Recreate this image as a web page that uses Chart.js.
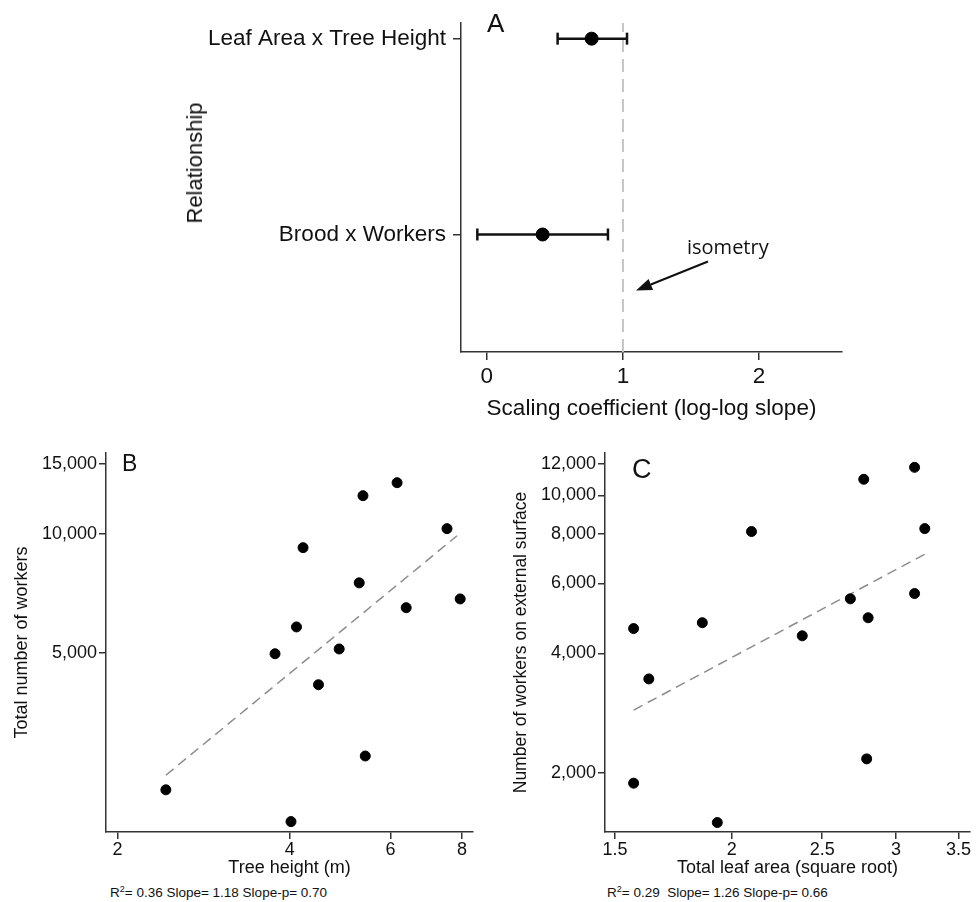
<!DOCTYPE html>
<html>
<head>
<meta charset="utf-8">
<script src="https://cdn.jsdelivr.net/npm/chart.js@4/dist/chart.umd.min.js"></script>
<style>
  body { margin: 0; background: #fff; width: 977px; height: 902px; position: relative; overflow: hidden;
         font-family: 'Liberation Sans', Arial, sans-serif; color: #111; }
  canvas { position: absolute; }
  .lbl { position: absolute; line-height: 1; white-space: nowrap; }
  .note { font-size: 13.5px; }
  .note sup { font-size: 9px; vertical-align: 5px; }
</style>
</head>
<body>
<canvas id="chartA" width="977" height="430" style="left:0;top:0"></canvas>
<canvas id="chartB" width="488" height="440" style="left:0;top:440px"></canvas>
<canvas id="chartC" width="489" height="440" style="left:488px;top:440px"></canvas>

<div class="lbl" style="left:487px;top:10px;font-size:26px">A</div>
<div class="lbl" style="left:122px;top:452px;font-size:23px">B</div>
<div class="lbl" style="left:632px;top:456px;font-size:27px">C</div>
<div class="lbl" style="left:195px;top:163px;font-size:22px;transform:translate(-50%,-50%) rotate(-90deg)">Relationship</div>
<div class="lbl" style="left:687px;top:237px;font-size:20px;font-family:'Open Sans',sans-serif">isometry</div>
<div class="lbl note" style="left:110px;top:885px">R<sup>2</sup>= 0.36 Slope= 1.18 Slope-p= 0.70</div>
<div class="lbl note" style="left:607px;top:885px">R<sup>2</sup>= 0.29&nbsp; Slope= 1.26 Slope-p= 0.66</div>

<script>
// panel A: scaling coefficients
const relationships = ['Leaf Area x Tree Height', 'Brood x Workers']
const relPositions = [2, 1]
const slopeEst = [0.77, 0.41]
const slopeLow = [0.52, -0.07]
const slopeHigh = [1.03, 0.89]
const slopeTicks = [0, 1, 2]
const isometry = 1
const arrowFrom = [1.625, 0.862]
const arrowTo = [1.096, 0.714]

// panel B: tree height vs total workers
const heightB = [2.43, 3.77, 4.02, 4.11, 4.22, 4.49, 4.88, 5.29, 5.37, 5.42, 6.16, 6.39, 7.53, 7.94]
const workersB = [2250, 4970, 1870, 5810, 9220, 4150, 5110, 7510, 12480, 2740, 13460, 6500, 10300, 6840]
const trendHeightB = [2.43, 7.84]
const trendWorkersB = [2450, 9880]
const heightTicks = [2, 4, 6, 8]
const workerTicksB = [5000, 10000, 15000]

// panel C: leaf area vs workers on external surface
const leafC = [3.14, 2.77, 3.22, 2.10, 3.14, 2.68, 2.80, 1.86, 1.57, 2.38, 1.63, 2.79, 1.57, 1.93]
const externalC = [11770, 10980, 8250, 8110, 5660, 5490, 4920, 4780, 4620, 4430, 3450, 2170, 1885, 1500]
const trendLeafC = [1.57, 3.23]
const trendExternalC = [2880, 7140]
const leafTicks = [1.5, 2, 2.5, 3, 3.5]
const externalTicks = [2000, 4000, 6000, 8000, 10000, 12000]

Chart.defaults.font.family = "'Liberation Sans', Arial, sans-serif"
Chart.defaults.color = '#111'

const zip = (xs, ys) => xs.map((x, i) => ({ x, y: ys[i] }))

function axis(cfg) {
  return {
    type: cfg.type,
    min: cfg.min,
    max: cfg.max,
    afterBuildTicks: (s) => { s.ticks = cfg.ticks.map((v) => ({ value: v })) },
    afterFit: (s) => { if (cfg.width) s.width = cfg.width; if (cfg.height) s.height = cfg.height },
    ticks: {
      autoSkip: false, maxRotation: 0, color: '#111',
      font: { size: cfg.fontSize }, padding: cfg.tickPad,
      callback: cfg.format || ((v) => String(v)),
    },
    grid: { drawOnChartArea: false, tickLength: cfg.tickLen, color: '#333', lineWidth: 1.5 },
    border: { color: '#333', width: 1.5 },
    title: cfg.title
      ? { display: true, text: cfg.title, color: '#111', font: { size: cfg.titleSize || cfg.fontSize }, padding: cfg.titlePad }
      : { display: false },
  }
}

const baseOpts = {
  responsive: false,
  animation: false,
  plugins: { legend: { display: false }, tooltip: { enabled: false } },
}

const arrowPlugin = {
  id: 'isometryArrow',
  afterDatasetsDraw(chart) {
    const { ctx, scales: { x, y } } = chart
    const x1 = x.getPixelForValue(arrowFrom[0]), y1 = y.getPixelForValue(arrowFrom[1])
    const x2 = x.getPixelForValue(arrowTo[0]), y2 = y.getPixelForValue(arrowTo[1])
    const ang = Math.atan2(y2 - y1, x2 - x1)
    const head = 16, half = 6
    const bx = x2 - head * Math.cos(ang), by = y2 - head * Math.sin(ang)
    ctx.save()
    ctx.strokeStyle = '#111'
    ctx.lineWidth = 2
    ctx.beginPath(); ctx.moveTo(x1, y1); ctx.lineTo(bx, by); ctx.stroke()
    ctx.fillStyle = '#111'
    ctx.beginPath()
    ctx.moveTo(x2, y2)
    ctx.lineTo(bx + half * Math.sin(ang), by - half * Math.cos(ang))
    ctx.lineTo(bx - half * Math.sin(ang), by + half * Math.cos(ang))
    ctx.closePath(); ctx.fill()
    ctx.restore()
  },
}

// A
const yMinA = 0.4, yMaxA = 2.08
new Chart(document.getElementById('chartA'), {
  type: 'scatter',
  data: {
    datasets: [
      { data: zip(slopeEst, relPositions), backgroundColor: '#000', borderColor: '#000', pointRadius: 6.5 },
      ...relationships.map((r, i) => ({
        data: [{ x: slopeLow[i], y: relPositions[i] }, { x: slopeHigh[i], y: relPositions[i] }],
        showLine: true, borderColor: '#111', borderWidth: 2.5,
        pointStyle: 'line', pointRotation: 90, pointRadius: 6, pointBorderWidth: 2.5, pointBorderColor: '#111',
      })),
      {
        data: [{ x: isometry, y: yMinA }, { x: isometry, y: yMaxA }],
        showLine: true, borderColor: '#c4c4c4', borderWidth: 2, borderDash: [13, 7], pointRadius: 0,
      },
    ],
  },
  options: {
    ...baseOpts,
    layout: { padding: { left: 0, right: 135, top: 23, bottom: 0 } },
    scales: {
      x: axis({ type: 'linear', min: -0.19, max: 2.61, ticks: slopeTicks, height: 78, fontSize: 22.5,
        tickPad: 3, tickLen: 8, title: 'Scaling coefficient (log-log slope)', titlePad: { bottom: 8 } }),
      y: axis({ type: 'linear', min: yMinA, max: yMaxA, ticks: relPositions, width: 461, fontSize: 22.5,
        tickPad: 7, tickLen: 8, format: (v) => relationships[relPositions.indexOf(v)] }),
    },
  },
  plugins: [arrowPlugin],
})

function fitChart(id, xs, ys, tx, ty, xCfg, yCfg, pad) {
  new Chart(document.getElementById(id), {
    type: 'scatter',
    data: {
      datasets: [
        { data: zip(xs, ys), backgroundColor: '#000', borderColor: '#000', pointRadius: 5 },
        { data: zip(tx, ty), showLine: true, borderColor: '#8c8c8c', borderWidth: 1.5, borderDash: [10, 6], pointRadius: 0 },
      ],
    },
    options: {
      ...baseOpts,
      layout: { padding: pad },
      scales: { x: axis(xCfg), y: axis(yCfg) },
    },
  })
}

const fmt = (v) => v.toLocaleString('en-US')

// B
fitChart('chartB', heightB, workersB, trendHeightB, trendWorkersB,
  { type: 'logarithmic', min: 1.91, max: 8.36, ticks: heightTicks, height: 48, fontSize: 18, tickPad: 0, tickLen: 7,
    title: 'Tree height (m)', titlePad: { bottom: 1 } },
  { type: 'logarithmic', min: 1760, max: 16000, ticks: workerTicksB, width: 106, fontSize: 18, tickPad: 2, tickLen: 7,
    format: fmt, title: 'Total number of workers', titlePad: { top: 11 } },
  { left: 0, right: 15, top: 13, bottom: 0 })

// C
fitChart('chartC', leafC, externalC, trendLeafC, trendExternalC,
  { type: 'logarithmic', min: 1.463, max: 3.60, ticks: leafTicks, height: 48, fontSize: 18, tickPad: 0, tickLen: 7,
    title: 'Total leaf area (square root)', titlePad: { bottom: 1 } },
  { type: 'logarithmic', min: 1420, max: 12790, ticks: externalTicks, width: 117, fontSize: 18, tickPad: 2, tickLen: 7,
    format: fmt, title: 'Number of workers on external surface', titleSize: 17.5, titlePad: { top: 23 } },
  { left: 0, right: 7, top: 13, bottom: 0 })
</script>
</body>
</html>
